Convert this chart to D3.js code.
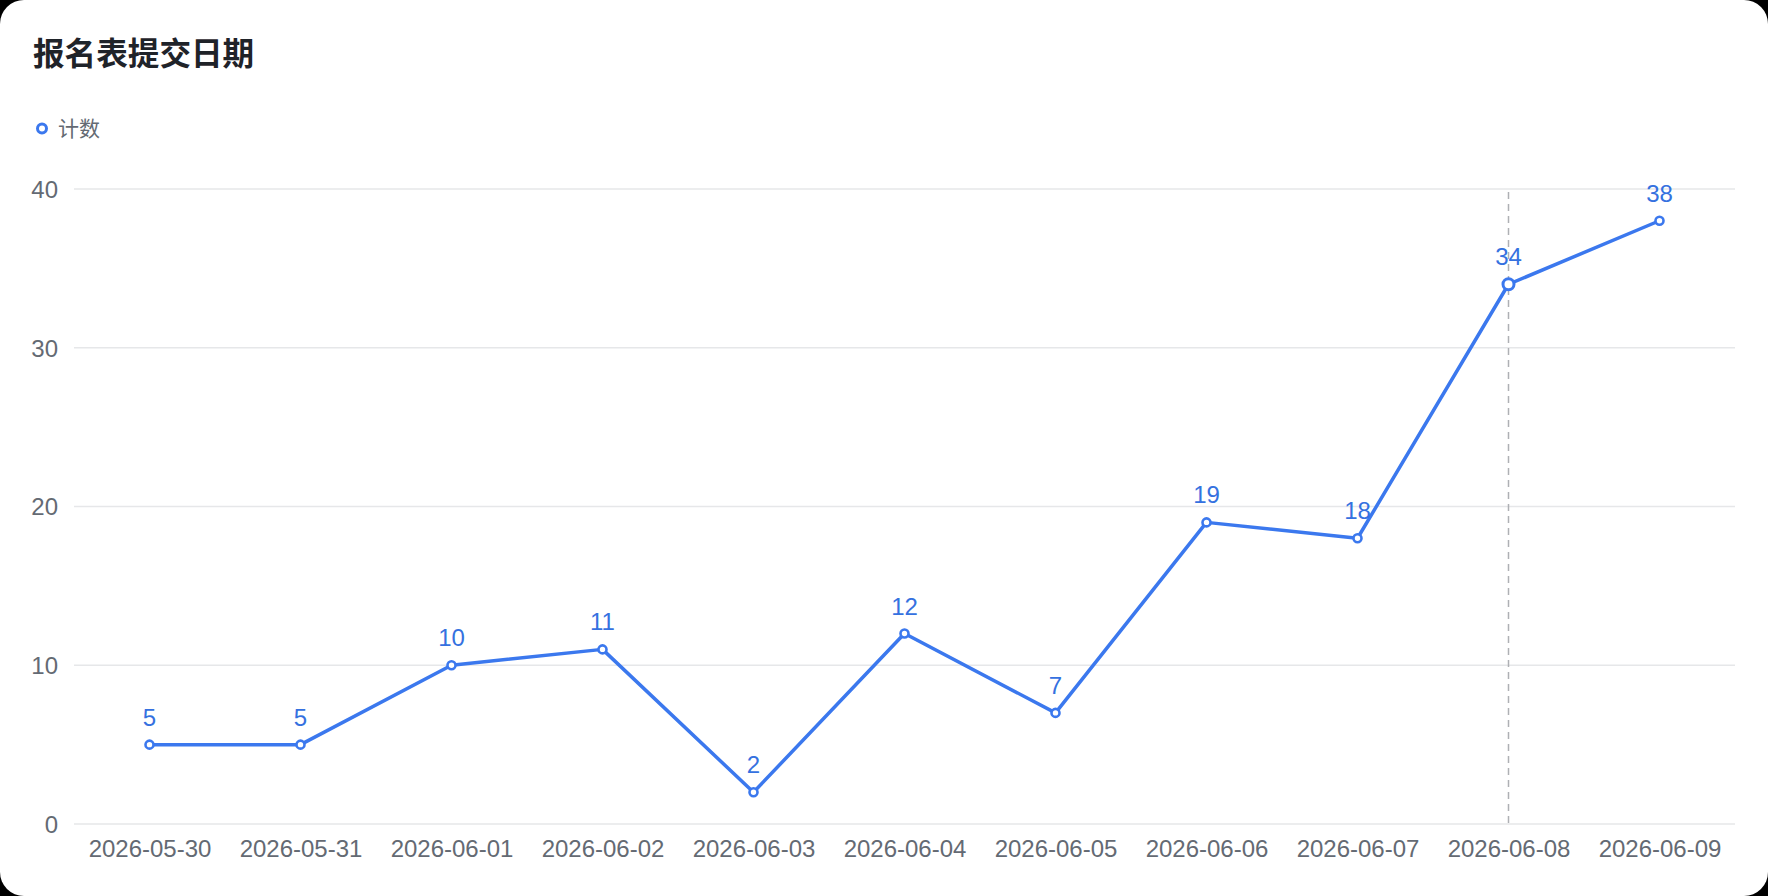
<!DOCTYPE html>
<html><head><meta charset="utf-8">
<script src="https://cdn.jsdelivr.net/npm/d3@7"></script>
<style>
html,body{margin:0;padding:0;background:#000;}
svg{display:block;}
</style></head>
<body>
<script>
const categories = ["2026-05-30","2026-05-31","2026-06-01","2026-06-02","2026-06-03","2026-06-04","2026-06-05","2026-06-06","2026-06-07","2026-06-08","2026-06-09"];
const counts = [5,5,10,11,2,12,7,19,18,34,38];
const yTicks = [0,10,20,30,40];
const title = "报名表提交日期";
const seriesName = "计数";
const highlighted = "2026-06-08";

const W = 1768, H = 896;
const font = "'Liberation Sans','Noto Sans CJK SC',Arial,sans-serif";
const cjk = "'Noto Sans CJK SC','Liberation Sans',sans-serif";
const blue = "#3b78ee", labelBlue = "#3571e0", gray = "#646a73";

const svg = d3.select("body").append("svg").attr("width", W).attr("height", H);
svg.append("rect").attr("width", W).attr("height", H).attr("fill", "#000");
svg.append("rect").attr("x",0).attr("y",0).attr("width",W).attr("height",H).attr("rx",24).attr("ry",24).attr("fill","#fff");

svg.append("text").attr("x",33).attr("y",65).attr("font-family",cjk).attr("font-weight",700)
  .attr("font-size",31.6).attr("fill","#1f2329").text(title);

// legend
svg.append("circle").attr("cx",42).attr("cy",128.5).attr("r",4.5).attr("fill","#fff").attr("stroke",blue).attr("stroke-width",3);
svg.append("text").attr("x",58).attr("y",136).attr("font-family",cjk).attr("font-size",21).attr("fill",gray).text(seriesName);

const x = d3.scalePoint().domain(categories).range([74,1735]).padding(0.5);
const y = d3.scaleLinear().domain([0,40]).range([824,189]);

// grid
svg.append("g").selectAll("line").data(yTicks).join("line")
  .attr("x1",74).attr("x2",1735).attr("y1",d=>y(d)).attr("y2",d=>y(d))
  .attr("stroke","#e6e7e9").attr("stroke-width",1.5);

// y axis
const ya = svg.append("g").attr("transform","translate(58,0)")
  .call(d3.axisLeft(y).tickValues(yTicks).tickSize(0).tickPadding(0));
ya.select(".domain").remove();
ya.selectAll("text").attr("font-family",font).attr("font-size",24).attr("fill",gray).attr("dy","0.35em");

// x axis
const xa = svg.append("g").attr("transform","translate(0,824)")
  .call(d3.axisBottom(x).tickSize(0).tickPadding(16));
xa.select(".domain").remove();
xa.selectAll("text").attr("font-family",font).attr("font-size",24).attr("fill",gray);

// hover dashed line
svg.append("line").attr("x1",x(highlighted)).attr("x2",x(highlighted)).attr("y1",192).attr("y2",824)
  .attr("stroke","#aeb0b4").attr("stroke-width",1.5).attr("stroke-dasharray","7,5");

const data = categories.map((c,i)=>({c, v:counts[i]}));
svg.append("path").datum(data)
  .attr("d", d3.line().x(d=>x(d.c)).y(d=>y(d.v)))
  .attr("fill","none").attr("stroke",blue).attr("stroke-width",3.5).attr("stroke-linejoin","round");

svg.append("g").selectAll("circle").data(data).join("circle")
  .attr("cx",d=>x(d.c)).attr("cy",d=>y(d.v))
  .attr("r",d=>d.c===highlighted?5.5:4)
  .attr("fill","#fff").attr("stroke",blue).attr("stroke-width",d=>d.c===highlighted?3:2.6);

svg.append("g").selectAll("text").data(data).join("text")
  .attr("x",d=>x(d.c)).attr("y",d=>y(d.v)-19)
  .attr("text-anchor","middle").attr("font-family",font).attr("font-size",24)
  .attr("fill",labelBlue).text(d=>d.v);
</script>
</body></html>
